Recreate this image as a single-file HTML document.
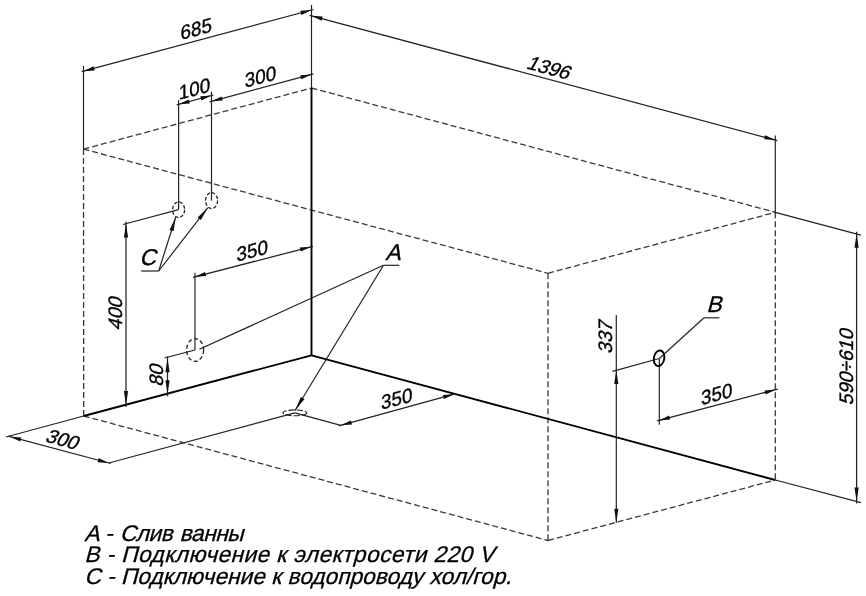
<!DOCTYPE html>
<html><head><meta charset="utf-8"><style>
html,body{margin:0;padding:0;background:#fff;}
svg{display:block;filter:grayscale(1);}
text{font-family:"Liberation Sans",sans-serif;fill:#000;stroke:#000;stroke-width:0.35px;}
</style></head><body>
<svg width="866" height="596" viewBox="0 0 866 596">
<rect width="866" height="596" fill="#fff"/>
<line x1="83.5" y1="149.1" x2="311.5" y2="88.0" stroke="#3a3a3a" stroke-width="1.3" stroke-dasharray="6 3"/>
<line x1="311.5" y1="88.0" x2="775.3" y2="212.3" stroke="#3a3a3a" stroke-width="1.3" stroke-dasharray="6 3"/>
<line x1="83.5" y1="149.1" x2="548.0" y2="273.3" stroke="#3a3a3a" stroke-width="1.3" stroke-dasharray="6 3"/>
<line x1="548.0" y1="273.3" x2="775.3" y2="212.3" stroke="#3a3a3a" stroke-width="1.3" stroke-dasharray="6 3"/>
<line x1="83.5" y1="149.1" x2="83.7" y2="416.0" stroke="#3a3a3a" stroke-width="1.3" stroke-dasharray="6 3"/>
<line x1="548.0" y1="273.3" x2="548.0" y2="540.5" stroke="#3a3a3a" stroke-width="1.3" stroke-dasharray="6 3"/>
<line x1="775.3" y1="212.3" x2="775.3" y2="480.0" stroke="#3a3a3a" stroke-width="1.3" stroke-dasharray="6 3"/>
<line x1="83.7" y1="416.0" x2="548.0" y2="540.5" stroke="#3a3a3a" stroke-width="1.3" stroke-dasharray="6 3"/>
<line x1="548.0" y1="540.5" x2="775.3" y2="480.0" stroke="#3a3a3a" stroke-width="1.3" stroke-dasharray="6 3"/>
<line x1="311.5" y1="88.0" x2="311.5" y2="355.3" stroke="#000" stroke-width="1.9"/>
<line x1="83.7" y1="416.0" x2="311.5" y2="355.3" stroke="#000" stroke-width="1.9"/>
<line x1="311.5" y1="355.3" x2="775.3" y2="480.0" stroke="#000" stroke-width="1.9"/>
<line x1="83.5" y1="66.0" x2="83.5" y2="149.0" stroke="#222" stroke-width="1.2"/>
<line x1="311.5" y1="5.0" x2="311.5" y2="88.0" stroke="#222" stroke-width="1.2"/>
<line x1="775.3" y1="135.6" x2="775.3" y2="212.3" stroke="#222" stroke-width="1.2"/>
<line x1="178.6" y1="100.3" x2="178.6" y2="209.7" stroke="#222" stroke-width="1.2"/>
<line x1="211.5" y1="91.7" x2="211.5" y2="200.6" stroke="#222" stroke-width="1.2"/>
<line x1="178.6" y1="209.7" x2="123.0" y2="224.5" stroke="#222" stroke-width="1.2"/>
<line x1="195.0" y1="272.8" x2="195.0" y2="350.0" stroke="#222" stroke-width="1.2"/>
<line x1="195.0" y1="350.0" x2="164.5" y2="358.0" stroke="#222" stroke-width="1.2"/>
<line x1="294.9" y1="412.8" x2="108.8" y2="463.0" stroke="#222" stroke-width="1.2"/>
<line x1="83.7" y1="416.0" x2="6.0" y2="437.0" stroke="#222" stroke-width="1.2"/>
<line x1="294.9" y1="412.8" x2="340.8" y2="425.3" stroke="#222" stroke-width="1.2"/>
<line x1="659.3" y1="358.5" x2="612.5" y2="371.3" stroke="#222" stroke-width="1.2"/>
<line x1="659.3" y1="358.5" x2="659.3" y2="424.7" stroke="#222" stroke-width="1.2"/>
<line x1="775.3" y1="212.3" x2="860.9" y2="235.2" stroke="#222" stroke-width="1.2"/>
<line x1="775.3" y1="480.0" x2="860.9" y2="502.7" stroke="#222" stroke-width="1.2"/>
<line x1="81.6" y1="71.7" x2="313.4" y2="9.5" stroke="#222" stroke-width="1.25"/>
<polygon points="83.5,71.2 93.6,66.3 94.7,70.4" fill="#111"/>
<polygon points="311.5,10.0 301.4,14.9 300.3,10.8" fill="#111"/>
<line x1="309.6" y1="15.3" x2="777.3" y2="140.6" stroke="#222" stroke-width="1.25"/>
<polygon points="311.5,15.8 322.7,16.6 321.6,20.7" fill="#111"/>
<polygon points="775.4,140.1 764.2,139.3 765.3,135.2" fill="#111"/>
<line x1="176.7" y1="104.8" x2="213.4" y2="95.0" stroke="#222" stroke-width="1.25"/>
<polygon points="178.6,104.3 188.7,99.4 189.8,103.5" fill="#111"/>
<polygon points="211.5,95.5 201.4,100.4 200.3,96.3" fill="#111"/>
<line x1="209.6" y1="101.8" x2="313.4" y2="73.9" stroke="#222" stroke-width="1.25"/>
<polygon points="211.5,101.3 221.6,96.4 222.7,100.5" fill="#111"/>
<polygon points="311.5,74.4 301.4,79.3 300.3,75.2" fill="#111"/>
<line x1="126.0" y1="221.6" x2="126.0" y2="406.9" stroke="#222" stroke-width="1.25"/>
<polygon points="126.0,223.6 128.1,237.6 123.9,237.6" fill="#111"/>
<polygon points="126.0,404.9 123.9,390.9 128.1,390.9" fill="#111"/>
<line x1="193.0" y1="277.3" x2="312.9" y2="246.3" stroke="#222" stroke-width="1.25"/>
<polygon points="194.9,276.8 205.0,272.0 206.1,276.1" fill="#111"/>
<polygon points="311.0,246.8 300.9,251.6 299.8,247.5" fill="#111"/>
<line x1="167.5" y1="356.3" x2="167.5" y2="396.3" stroke="#222" stroke-width="1.25"/>
<polygon points="167.5,358.3 169.6,372.3 165.4,372.3" fill="#111"/>
<polygon points="167.5,394.3 165.4,380.3 169.6,380.3" fill="#111"/>
<line x1="338.9" y1="425.8" x2="456.0" y2="393.7" stroke="#222" stroke-width="1.25"/>
<polygon points="340.8,425.3 350.9,420.4 352.0,424.4" fill="#111"/>
<polygon points="454.1,394.2 444.0,399.1 442.9,395.1" fill="#111"/>
<line x1="8.2" y1="436.2" x2="110.7" y2="463.5" stroke="#222" stroke-width="1.25"/>
<polygon points="10.1,436.7 21.3,437.5 20.2,441.6" fill="#111"/>
<polygon points="108.8,463.0 97.6,462.2 98.7,458.1" fill="#111"/>
<line x1="616.3" y1="315.0" x2="616.3" y2="522.8" stroke="#222" stroke-width="1.2"/>
<polygon points="616.3,370.0 618.4,384.0 614.2,384.0" fill="#111"/>
<polygon points="616.3,522.8 614.2,508.8 618.4,508.8" fill="#111"/>
<line x1="657.1" y1="420.9" x2="777.7" y2="389.1" stroke="#222" stroke-width="1.25"/>
<polygon points="659.0,420.4 669.1,415.6 670.2,419.6" fill="#111"/>
<polygon points="775.8,389.6 765.7,394.4 764.6,390.4" fill="#111"/>
<line x1="856.6" y1="231.7" x2="856.6" y2="503.4" stroke="#222" stroke-width="1.25"/>
<polygon points="856.6,233.7 858.7,247.7 854.5,247.7" fill="#111"/>
<polygon points="856.6,501.4 854.5,487.4 858.7,487.4" fill="#111"/>
<line x1="141.1" y1="271.0" x2="158.7" y2="271.0" stroke="#222" stroke-width="1.2"/>
<line x1="158.7" y1="271.0" x2="175.7" y2="217.2" stroke="#222" stroke-width="1.2"/>
<polygon points="175.7,217.2 173.5,231.2 169.5,229.9" fill="#111"/>
<line x1="158.7" y1="271.0" x2="207.8" y2="207.7" stroke="#222" stroke-width="1.2"/>
<polygon points="207.8,207.7 200.9,220.0 197.6,217.5" fill="#111"/>
<line x1="383.5" y1="265.3" x2="399.3" y2="265.3" stroke="#222" stroke-width="1.2"/>
<line x1="383.5" y1="265.3" x2="199.4" y2="349.3" stroke="#222" stroke-width="1.2"/>
<line x1="383.5" y1="265.3" x2="294.9" y2="410.8" stroke="#222" stroke-width="1.2"/>
<polygon points="294.9,410.8 300.9,396.9 304.5,399.1" fill="#111"/>
<line x1="704.0" y1="317.8" x2="719.5" y2="317.8" stroke="#222" stroke-width="1.2"/>
<line x1="704.0" y1="317.8" x2="659.3" y2="358.5" stroke="#222" stroke-width="1.2"/>
<ellipse cx="178.6" cy="209.7" rx="6" ry="7.8" transform="rotate(0 178.6 209.7)" fill="none" stroke="#222" stroke-width="1.3" stroke-dasharray="3.5 2"/>
<ellipse cx="211.6" cy="200.6" rx="6" ry="8" transform="rotate(0 211.6 200.6)" fill="none" stroke="#222" stroke-width="1.3" stroke-dasharray="3.5 2"/>
<ellipse cx="195.1" cy="350" rx="8.5" ry="11.3" transform="rotate(0 195.1 350)" fill="none" stroke="#222" stroke-width="1.3" stroke-dasharray="4 2.5"/>
<ellipse cx="294.9" cy="412.8" rx="12" ry="2.9" transform="rotate(0 294.9 412.8)" fill="none" stroke="#222" stroke-width="1.1" stroke-dasharray="6 2"/>
<ellipse cx="659.1" cy="358.3" rx="5.2" ry="7.9" transform="rotate(10 659.1 358.3)" fill="none" stroke="#000" stroke-width="1.9"/>
<text transform="translate(196.3,28.5) rotate(-15) skewX(-15)" x="0" y="6.98" text-anchor="middle" font-size="19.5">685</text>
<text transform="translate(550,67.7) rotate(15) skewX(-15)" x="0" y="6.98" text-anchor="middle" font-size="19.5">1396</text>
<text transform="translate(194.5,88.5) rotate(-15) skewX(-15)" x="0" y="6.98" text-anchor="middle" font-size="19.5">100</text>
<text transform="translate(260.4,76.3) rotate(-15) skewX(-15)" x="0" y="6.98" text-anchor="middle" font-size="19.5">300</text>
<text transform="translate(114.8,312.3) rotate(-90) skewX(-15)" x="0" y="6.98" text-anchor="middle" font-size="19.5">400</text>
<text transform="translate(252.2,250.3) rotate(-15) skewX(-15)" x="0" y="6.98" text-anchor="middle" font-size="19.5">350</text>
<text transform="translate(155.9,374.1) rotate(-90) skewX(-15)" x="0" y="6.98" text-anchor="middle" font-size="19.5">80</text>
<text transform="translate(396.7,398.3) rotate(-15) skewX(-15)" x="0" y="6.98" text-anchor="middle" font-size="19.5">350</text>
<text transform="translate(63.5,439.3) rotate(15) skewX(-15)" x="0" y="6.98" text-anchor="middle" font-size="19.5">300</text>
<text transform="translate(605.2,335.8) rotate(-90) skewX(-15)" x="0" y="6.98" text-anchor="middle" font-size="19.5">337</text>
<text transform="translate(716.7,393.7) rotate(-15) skewX(-15)" x="0" y="6.98" text-anchor="middle" font-size="19.5">350</text>
<text transform="translate(846.4,365.7) rotate(-90) skewX(-15)" x="0" y="6.98" text-anchor="middle" font-size="19.5">590÷610</text>
<text transform="translate(395,251.7) rotate(0) skewX(-15)" x="0" y="8.16" text-anchor="middle" font-size="22.8">A</text>
<text transform="translate(716,304.2) rotate(0) skewX(-15)" x="0" y="8.16" text-anchor="middle" font-size="22.8">B</text>
<text transform="translate(149.6,257.3) rotate(0) skewX(-15)" x="0" y="8.16" text-anchor="middle" font-size="22.8">C</text>
<text transform="translate(84.2,541.1) skewX(-15)" font-size="22.7" letter-spacing="-0.5" word-spacing="1.7" style="stroke-width:0.28px">A - Слив ванны</text>
<text transform="translate(84.2,562.3) skewX(-15)" font-size="22.7" letter-spacing="0.4" word-spacing="0" style="stroke-width:0.28px">B - Подключение к электросети 220 V</text>
<text transform="translate(84.2,583.5) skewX(-15)" font-size="22.7" letter-spacing="0" word-spacing="0" style="stroke-width:0.28px">C - Подключение к водопроводу хол/гор.</text>
</svg></body></html>
